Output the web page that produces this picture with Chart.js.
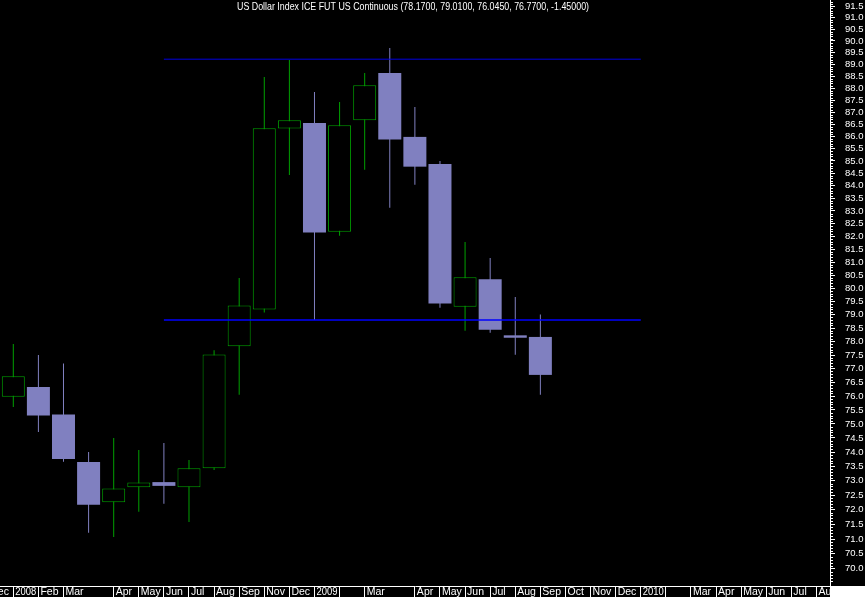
<!DOCTYPE html>
<html>
<head>
<meta charset="utf-8">
<script src="https://cdn.jsdelivr.net/npm/chart.js@4.4.1/dist/chart.umd.min.js"></script>
<style>
  html, body { margin: 0; padding: 0; background: #000; }
  #wrap { width: 865px; height: 597px; }
</style>
</head>
<body>
<div id="wrap"><canvas id="dx" width="865" height="597"></canvas></div>
<script>
// Monthly candles, Jan 2008 .. Sep 2009 (index 0 = Jan 2008)
const opens  = [75.98, 76.33, 75.34, 73.65, 72.25, 72.77, 72.95, 72.77, 73.43, 77.82, 79.20, 86.32, 86.55, 82.18, 86.66, 88.64, 85.98, 84.88, 79.30, 80.35, 78.23, 78.17];
const highs  = [77.91, 77.50, 77.19, 74.00, 74.50, 74.07, 74.32, 73.72, 77.68, 80.39, 88.47, 89.19, 87.84, 87.42, 88.64, 89.70, 87.21, 85.00, 81.78, 81.16, 79.67, 79.01];
const lows   = [75.61, 74.71, 73.66, 71.21, 71.07, 71.93, 72.20, 71.58, 73.37, 76.05, 79.08, 84.43, 78.80, 82.03, 84.65, 83.13, 84.04, 79.26, 78.40, 78.33, 77.51, 76.045];
const closes = [76.72, 75.30, 73.76, 72.17, 72.73, 72.94, 72.82, 73.43, 77.52, 79.35, 86.33, 86.66, 82.15, 86.46, 88.12, 85.87, 84.77, 79.42, 80.42, 78.44, 78.14, 76.77];

// x-axis labels, slot -1 (Dec 2007) .. slot 32 (Aug 2010)
const monthLabels = ['Dec', '2008', 'Feb', 'Mar', '', 'Apr', 'May', 'Jun', 'Jul', 'Aug', 'Sep', 'Nov', 'Dec', '2009', '', 'Mar', '', 'Apr', 'May', 'Jun', 'Jul', 'Aug', 'Sep', 'Oct', 'Nov', 'Dec', '2010', '', 'Mar', 'Apr', 'May', 'Jun', 'Jul', 'Aug'];
const noSeparator = [3, 15];

const priceTicks = [70.0, 70.5, 71.0, 71.5, 72.0, 72.5, 73.0, 73.5, 74.0, 74.5, 75.0, 75.5, 76.0, 76.5, 77.0, 77.5, 78.0, 78.5, 79.0, 79.5, 80.0, 80.5, 81.0, 81.5, 82.0, 82.5, 83.0, 83.5, 84.0, 84.5, 85.0, 85.5, 86.0, 86.5, 87.0, 87.5, 88.0, 88.5, 89.0, 89.5, 90.0, 90.5, 91.0, 91.5];

// support / resistance lines: [fromSlot, toSlot, level]
const resistance = [6, 25, 89.22];
const support    = [6, 25, 78.80];

const TITLE = 'US Dollar Index ICE FUT US Continuous (78.1700, 79.0100, 76.0450, 76.7700, -1.45000)';
const UP = '#00a000', DOWN = '#8080c0';
const FONT = '"Liberation Sans", Arial, sans-serif';

const upIdx = [], downIdx = [];
closes.forEach((c, i) => (c >= opens[i] ? upIdx : downIdx).push(i));

const bodies = idx => idx.map(i => ({ x: i, y: [opens[i], closes[i]] }));
const wicks  = idx => idx.map(i => ({ x: i, y: [lows[i], highs[i]] }));

// title, month labels, minor ticks on the price axis, white corner box
const decorPlugin = {
  id: 'decor',
  afterDraw(chart) {
    const ctx = chart.ctx, y = chart.scales.y, x = chart.scales.x;
    const area = chart.chartArea;
    ctx.save();
    ctx.strokeStyle = '#fff';
    ctx.lineWidth = 1;
    ctx.beginPath();
    for (let i = 695; i <= 917; i++) {
      if (i % 5 === 0) continue;
      const py = Math.round(y.getPixelForValue(i / 10)) + 0.5;
      ctx.moveTo(y.left, py);
      ctx.lineTo(y.left + 3, py);
    }
    ctx.stroke();

    ctx.fillStyle = '#fff';
    ctx.font = '11px ' + FONT;
    ctx.textAlign = 'center';
    ctx.textBaseline = 'middle';
    ctx.fillText(TITLE, 413, 7, 352);

    // month labels, left aligned after each separator
    ctx.save();
    ctx.beginPath();
    ctx.rect(area.left, area.bottom, area.right - area.left, chart.height - area.bottom);
    ctx.clip();
    ctx.font = '10.5px ' + FONT;
    ctx.textAlign = 'left';
    monthLabels.forEach((lbl, i) => {
      if (!lbl) return;
      ctx.fillText(lbl, x.getPixelForValue(i - 1) + 2, area.bottom + 6.5, 21);
    });
    ctx.restore();

    ctx.fillRect(y.left, area.bottom, chart.width - y.left, chart.height - area.bottom);
    ctx.restore();
  }
};

const barCommon = { grouped: false, inflateAmount: 0, borderSkipped: false };

new Chart(document.getElementById('dx'), {
  type: 'bar',
  data: {
    datasets: [
      { ...barCommon, order: 1, data: bodies(upIdx), barThickness: 23, backgroundColor: '#000', borderColor: UP, borderWidth: 1 },
      { ...barCommon, order: 1, data: bodies(downIdx), barThickness: 23, backgroundColor: DOWN, borderWidth: 0 },
      { ...barCommon, order: 2, data: wicks(upIdx), barThickness: 1, backgroundColor: UP, borderWidth: 0 },
      { ...barCommon, order: 2, data: wicks(downIdx), barThickness: 1, backgroundColor: DOWN, borderWidth: 0 },
      { type: 'line', order: 0, data: [{ x: resistance[0], y: resistance[2] }, { x: resistance[1], y: resistance[2] }],
        borderColor: '#0000e0', borderWidth: 1, pointRadius: 0 },
      { type: 'line', order: 0, data: [{ x: support[0], y: support[2] }, { x: support[1], y: support[2] }],
        borderColor: '#0000ff', borderWidth: 1.5, pointRadius: 0 }
    ]
  },
  options: {
    responsive: false,
    animation: false,
    devicePixelRatio: 1,
    layout: { padding: 0 },
    plugins: { legend: { display: false }, tooltip: { enabled: false }, title: { display: false } },
    scales: {
      x: {
        type: 'linear',
        offset: false,
        bounds: 'data',
        min: -0.53,
        max: 32.54,
        afterBuildTicks: s => { s.ticks = monthLabels.slice(1).map((_, i) => ({ value: i })); },
        afterFit: s => { s.height = 11; s.paddingLeft = 0; s.paddingRight = 0; },
        grid: {
          offset: false,
          drawOnChartArea: false,
          drawTicks: true,
          tickLength: 11,
          tickColor: c => (c.tick && noSeparator.includes(c.tick.value)) ? 'rgba(0,0,0,0)' : '#fff'
        },
        border: { display: true, color: '#fff' },
        ticks: { display: false, autoSkip: false, maxRotation: 0 }
      },
      y: {
        type: 'logarithmic',
        position: 'right',
        min: 69.43,
        max: 91.77,
        afterBuildTicks: s => { s.ticks = priceTicks.map(v => ({ value: v })); },
        afterFit: s => { s.width = 35; s.paddingTop = 0; s.paddingBottom = 0; },
        grid: { drawOnChartArea: false, drawTicks: true, tickLength: 5, tickColor: '#fff' },
        border: { display: true, color: '#fff' },
        ticks: {
          autoSkip: false,
          padding: 10,
          color: '#fff',
          font: { family: FONT, size: 9.5 },
          callback: v => Number(v).toFixed(1)
        }
      }
    }
  },
  plugins: [decorPlugin]
});
</script>
</body>
</html>
